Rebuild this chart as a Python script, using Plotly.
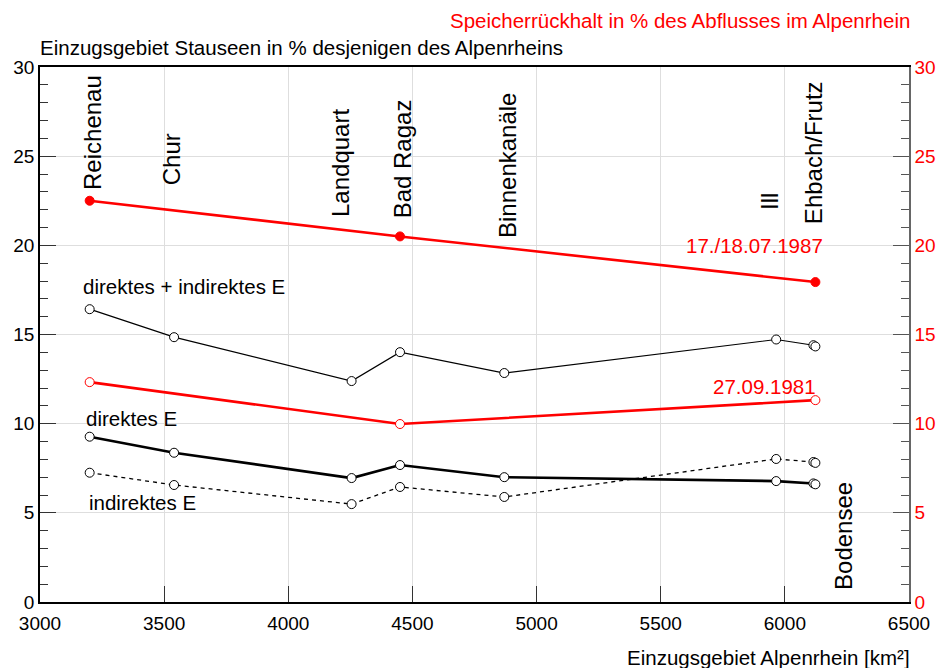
import plotly.graph_objects as go

# catchment area of the Alpine Rhine at each station [km2]
station_x = [3200, 3540, 4255, 4450, 4870, 5965, 6115, 6123]
# share of reservoir catchment in % (black series)
direct_indirect = [16.42, 14.85, 12.39, 14.01, 12.84, 14.72, 14.4, 14.33]
direct = [9.27, 8.37, 6.95, 7.68, 7.0, 6.78, 6.65, 6.6]
indirect = [7.25, 6.56, 5.49, 6.45, 5.89, 8.02, 7.85, 7.8]

# storage retention in % of discharge (red series)
flood_x = [3200, 4450, 6123]
flood_1987 = [22.5, 20.5, 17.94]
flood_1981 = [12.33, 9.98, 11.32]

# station names, drawn vertically above the curves
label_names = ["Reichenau", "Chur", "Landquart", "Bad Ragaz", "Binnenkanäle",
               "Ill", "Ehbach/Frutz", "Bodensee"]
label_x = [3212, 3528, 4210, 4460, 4883, 5940, 6113, 6234]
label_y = [23.0, 23.26, 21.5, 21.4, 20.3, 21.9, 21.1, 0.56]

FONT = "Liberation Sans, Arial, sans-serif"
RED = "#ff0000"

fig = go.Figure()

open_marker = dict(symbol="circle", size=9, color="white", line=dict(color="black", width=1))

fig.add_trace(go.Scatter(x=station_x, y=direct_indirect, mode="lines+markers",
                         line=dict(color="black", width=1.2), marker=open_marker))
fig.add_trace(go.Scatter(x=station_x, y=indirect, mode="lines+markers",
                         line=dict(color="black", width=1.3, dash="4px,4px"), marker=open_marker))
fig.add_trace(go.Scatter(x=station_x, y=direct, mode="lines+markers",
                         line=dict(color="black", width=2.6), marker=open_marker))
fig.add_trace(go.Scatter(x=flood_x, y=flood_1981, mode="lines+markers",
                         line=dict(color=RED, width=2.6),
                         marker=dict(size=9, color="white", line=dict(color=RED, width=1))))
fig.add_trace(go.Scatter(x=flood_x, y=flood_1987, mode="lines+markers",
                         line=dict(color=RED, width=2.6),
                         marker=dict(size=9, color=RED, line=dict(color=RED, width=1))))
# invisible trace to activate the right-hand axis
fig.add_trace(go.Scatter(x=[None], y=[None], yaxis="y2", showlegend=False))

annotations = []
for name, lx, ly in zip(label_names, label_x, label_y):
    annotations.append(dict(x=lx, y=ly, xref="x", yref="y", text=name, textangle=-90,
                            showarrow=False, xanchor="center", yanchor="bottom",
                            font=dict(size=24, color="black", family=FONT)))

series_labels = [
    ("direktes + indirektes E", 3165, 17.7, "left", "black"),
    ("direktes E", 3177, 10.3, "left", "black"),
    ("indirektes E", 3190, 5.6, "left", "black"),
    ("17./18.07.1987", 6161, 20.0, "right", RED),
    ("27.09.1981", 6133, 12.1, "right", RED),
]
for text, lx, ly, anchor, col in series_labels:
    annotations.append(dict(x=lx, y=ly, xref="x", yref="y", text=text, showarrow=False,
                            xanchor=anchor, yanchor="middle",
                            font=dict(size=20.5, color=col, family=FONT)))

# page offset: the browser body adds 8px around the plot div
OFF = 8
W, H = 945, 668
L, R, T, B = 40 - OFF, 36 + OFF, 67 - OFF, 66 + OFF
pw, ph = W - L - R, H - T - B

titles = [
    ("Einzugsgebiet Stauseen in % desjenigen des Alpenrheins", 38, 47, "left", "black"),
    ("Speicherrückhalt in % des Abflusses im Alpenrhein", 912, 20, "right", RED),
    ("Einzugsgebiet Alpenrhein [km²]", 912, 657, "right", "black"),
]
for text, px, py, anchor, col in titles:
    annotations.append(dict(x=(px - OFF - L) / pw, y=(H - B - (py - OFF)) / ph,
                            xref="paper", yref="paper", text=text, showarrow=False,
                            xanchor=anchor, yanchor="middle",
                            font=dict(size=20.5, color=col, family=FONT)))

grid = "#dedede"
fig.update_layout(
    width=W, height=H,
    margin=dict(l=L, r=R, t=T, b=B),
    paper_bgcolor="white", plot_bgcolor="white",
    showlegend=False,
    font=dict(family=FONT, size=19, color="black"),
    annotations=annotations,
    xaxis=dict(range=[3000, 6500], dtick=500, tick0=3000, ticks="inside", ticklen=16,
               tickcolor="#333", showgrid=True, gridcolor=grid, gridwidth=1,
               showline=True, linecolor="black", linewidth=1.5, mirror=True,
               zeroline=False, tickfont=dict(size=19), automargin=False,
               ticklabelstandoff=3),
    yaxis=dict(range=[0, 30], dtick=5, ticks="inside", ticklen=16, tickcolor="#333",
               minor=dict(dtick=1, ticks="inside", ticklen=8, tickcolor="#333", showgrid=False),
               showgrid=True, gridcolor=grid, gridwidth=1,
               showline=True, linecolor="black", linewidth=1.5,
               zeroline=False, tickfont=dict(size=19), automargin=False),
    yaxis2=dict(range=[0, 30], dtick=5, overlaying="y", side="right", ticks="inside",
                ticklen=16, tickcolor="#555",
                minor=dict(dtick=1, ticks="inside", ticklen=8, tickcolor="#555", showgrid=False),
                showgrid=False, showline=True, linecolor="#666", linewidth=1.5,
                zeroline=False, tickfont=dict(size=19, color=RED), automargin=False),
)

fig.write_html("out.html")
